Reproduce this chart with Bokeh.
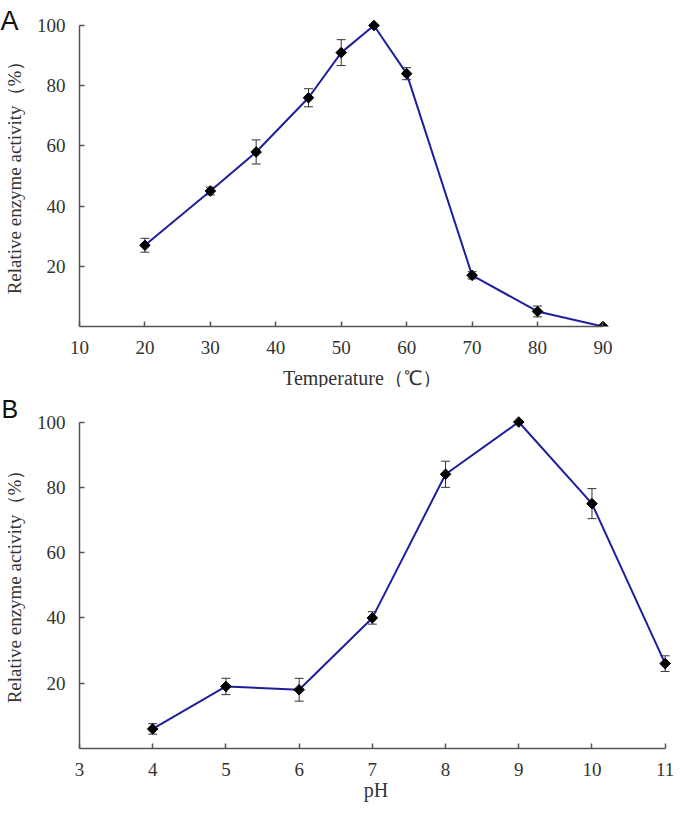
import numpy as np
from bokeh.plotting import figure
from bokeh.models import Range1d, FixedTicker, Whisker, TeeHead, ColumnDataSource, Label
from bokeh.embed import file_html
from bokeh.resources import INLINE

# ---- data ----
temp = [20, 30, 37, 45, 50, 55, 60, 70, 80, 90]
temp_activity = [27, 45, 58, 76, 91, 100, 84, 17, 5, 0]
temp_error = [2.3, 1.3, 4.0, 3.0, 4.3, 0, 2.0, 1.2, 1.8, 0]
temp_ticks = [10, 20, 30, 40, 50, 60, 70, 80, 90]

ph = [4, 5, 6, 7, 8, 9, 10, 11]
ph_activity = [6, 19, 18, 40, 84, 100, 75, 26]
ph_error = [1.6, 2.5, 3.5, 1.9, 4.0, 0, 4.6, 2.4]
ph_ticks = [3, 4, 5, 6, 7, 8, 9, 10, 11]

activity_ticks = [20, 40, 60, 80, 100]

LINE = "#1f1f9e"
AX = "#555555"
TXT = "#333333"
SERIF = "Liberation Serif"


def style(p, xticks, xbounds):
    p.xgrid.visible = False
    p.ygrid.visible = False
    p.outline_line_color = None
    p.background_fill_color = "white"
    p.border_fill_color = "white"
    for ax in (p.xaxis[0], p.yaxis[0]):
        ax.axis_line_color = AX
        ax.axis_line_width = 1.5
        ax.major_tick_line_color = AX
        ax.major_tick_line_width = 1.5
        ax.major_tick_in = 5
        ax.major_tick_out = 0
        ax.minor_tick_line_color = None
        ax.major_label_text_font = SERIF
        ax.major_label_text_font_size = "19px"
        ax.major_label_text_color = TXT
        ax.axis_label_text_font = SERIF
        ax.axis_label_text_font_size = "20px"
        ax.axis_label_text_font_style = "normal"
        ax.axis_label_text_color = TXT
    xa = p.xaxis[0]
    xa.ticker = FixedTicker(ticks=xticks)
    xa.bounds = xbounds
    xa.major_label_standoff = 14
    xa.axis_label_standoff = 0
    ya = p.yaxis[0]
    ya.ticker = FixedTicker(ticks=activity_ticks)
    ya.bounds = (0, 100)
    ya.major_label_standoff = 14
    ya.axis_label_standoff = 9
    ya.axis_label_text_font_size = "19px"
    ya.axis_label = "Relative enzyme activity（%）"


def draw(p, xs, ys, errs):
    xe = [x for x, e in zip(xs, errs) if e > 0]
    up = [y + e for y, e in zip(ys, errs) if e > 0]
    lo = [y - e for y, e in zip(ys, errs) if e > 0]
    src = ColumnDataSource(dict(x=xe, upper=up, lower=lo))
    w = Whisker(base="x", upper="upper", lower="lower", source=src,
                line_color="#333333", line_width=1,
                upper_head=TeeHead(size=9, line_color="#333333", line_width=1),
                lower_head=TeeHead(size=9, line_color="#333333", line_width=1))
    p.add_layout(w)
    p.line(xs, ys, line_color=LINE, line_width=2)
    p.scatter(xs, ys, marker="square", angle=np.pi / 4, size=7.5,
              fill_color="black", line_color="black")


# ---- panel A ----
p1 = figure(width=677, height=387, x_range=Range1d(10, 91), y_range=Range1d(0, 102),
            output_backend="svg", toolbar_location=None,
            min_border_left=74, min_border_right=68, min_border_top=19, min_border_bottom=61)
style(p1, temp_ticks, (10, 90))
draw(p1, temp, temp_activity, temp_error)
# x-axis title (placed slightly right of centre, as in the reference)
p1.add_layout(Label(x=362, y=377, x_units="canvas", y_units="canvas",
                    text="Temperature（℃）", text_font=SERIF, text_font_size="20px",
                    text_baseline="alphabetic", text_align="center", text_color=TXT),
              "below")
# panel letter (canvas units, kept in a side panel so it is not clipped)
p1.add_layout(Label(x=0, y=20, x_units="canvas", y_units="canvas", text="A",
                    text_font="Liberation Sans", text_font_size="27px",
                    text_baseline="alphabetic", text_align="left", text_color="#111111"),
              "right")

# ---- panel B ----
p2 = figure(width=677, height=418, x_range=Range1d(3, 11.1), y_range=Range1d(0, 102),
            output_backend="svg", toolbar_location=None,
            min_border_left=73, min_border_right=5, min_border_top=28, min_border_bottom=57)
style(p2, ph_ticks, (3, 11))
p2.xaxis[0].axis_label = "pH"
draw(p2, ph, ph_activity, ph_error)
p2.add_layout(Label(x=1, y=21, x_units="canvas", y_units="canvas", text="B",
                    text_font="Liberation Sans", text_font_size="25px",
                    text_baseline="alphabetic", text_align="left", text_color="#111111"),
              "above")

open("out.html", "w").write(file_html([p1, p2], INLINE))
